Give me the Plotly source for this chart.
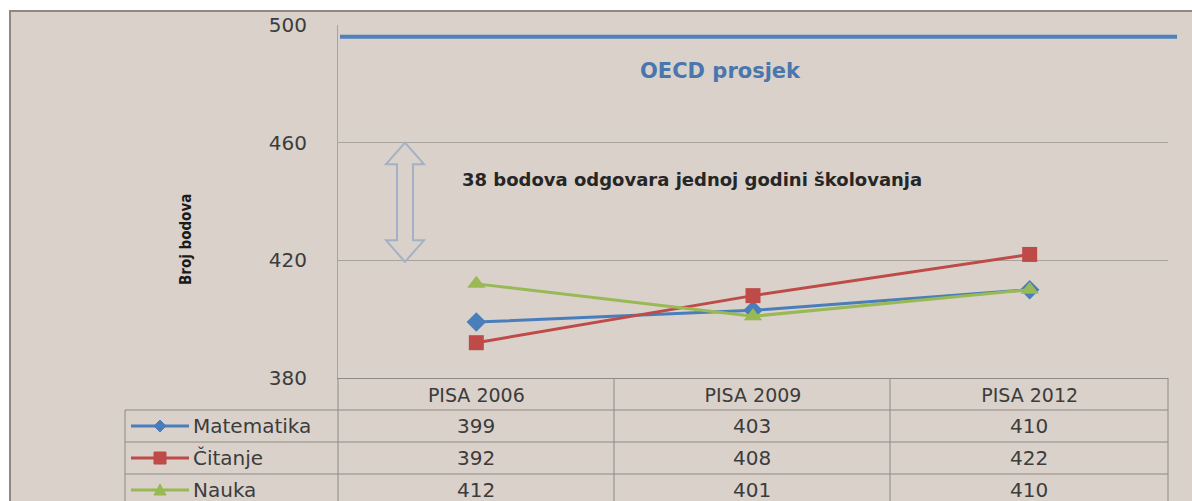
import plotly.graph_objects as go

categories = ["PISA 2006", "PISA 2009", "PISA 2012"]
series_names = ["Matematika", "Čitanje", "Nauka"]
matematika = [399, 403, 410]
citanje = [392, 408, 422]
nauka = [412, 401, 410]
oecd_avg = 496
oecd_label = "OECD prosjek"
note_text = "38 bodova odgovara jednoj godini školovanja"
arrow_span = [460, 419.5]
y_ticks = [380, 420, 460, 500]

W, H = 1192, 501
BG = "#D9D1CA"
colors = ["#4A7EBB", "#BE4B48", "#98B954"]
symbols = ["diamond", "square", "triangle-up"]
values = [matematika, citanje, nauka]
FONT = "DejaVu Sans"
TXT = "#3C3C3C"

def px(x):
    return x / W

def py(y):
    return 1 - y / H

fig = go.Figure()
msizes = {"diamond": 15, "square": 15, "triangle-up": 16}
for name, vals, col, sym in zip(series_names, values, colors, symbols):
    fig.add_trace(go.Scatter(
        x=categories, y=vals, name=name, mode="lines+markers",
        line=dict(color=col, width=3),
        marker=dict(symbol=sym, size=msizes[sym], color=col),
        showlegend=False, cliponaxis=False,
    ))

shapes = []
shapes.append(dict(type="rect", xref="paper", yref="paper", x0=0, x1=1, y0=py(10), y1=1,
                   fillcolor="white", line_width=0, layer="above"))
shapes.append(dict(type="rect", xref="paper", yref="paper", x0=0, x1=px(9), y0=0, y1=1,
                   fillcolor="white", line_width=0, layer="above"))
shapes.append(dict(type="line", xref="paper", yref="paper", x0=px(9), x1=1.0, y0=py(11), y1=py(11),
                   line=dict(color="#8C8885", width=2)))
shapes.append(dict(type="line", xref="paper", yref="paper", x0=px(10), x1=px(10), y0=py(11), y1=0,
                   line=dict(color="#8C8885", width=2)))

shapes.append(dict(type="line", xref="paper", yref="y", x0=px(340), x1=px(1177), y0=oecd_avg, y1=oecd_avg,
                   line=dict(color="#4F81BD", width=4)))

cx, hw, sw = 405, 19, 8
top, bot = arrow_span
hh = 7.3
path = (f"M {px(cx)},{top} L {px(cx+hw)},{top-hh} L {px(cx+sw)},{top-hh} L {px(cx+sw)},{bot+hh} "
        f"L {px(cx+hw)},{bot+hh} L {px(cx)},{bot} L {px(cx-hw)},{bot+hh} L {px(cx-sw)},{bot+hh} "
        f"L {px(cx-sw)},{top-hh} L {px(cx-hw)},{top-hh} Z")
shapes.append(dict(type="path", xref="paper", yref="y", path=path,
                   line=dict(color="#A3B1C4", width=2), fillcolor="rgba(0,0,0,0)"))

TL = "#8E8A86"
col_x = [338, 614, 890, 1168]
row_y = [378, 410, 442, 474]
for x in col_x:
    shapes.append(dict(type="line", xref="paper", yref="paper", x0=px(x), x1=px(x), y0=py(378), y1=0,
                       line=dict(color=TL, width=1)))
shapes.append(dict(type="line", xref="paper", yref="paper", x0=px(125), x1=px(125), y0=py(410), y1=0,
                   line=dict(color=TL, width=1)))
for y in row_y[1:]:
    shapes.append(dict(type="line", xref="paper", yref="paper", x0=px(125), x1=px(1168), y0=py(y), y1=py(y),
                       line=dict(color=TL, width=1)))

annotations = []
for i, (name, col, sym) in enumerate(zip(series_names, colors, symbols)):
    yc = (row_y[i + 1] + (row_y[i + 2] if i + 2 < len(row_y) else 506)) / 2
    shapes.append(dict(type="line", xref="paper", yref="paper", x0=px(131), x1=px(189), y0=py(yc), y1=py(yc),
                       line=dict(color=col, width=3)))
    mx = 160
    if sym == "diamond":
        p = f"M {px(mx)},{py(yc-6)} L {px(mx+6)},{py(yc)} L {px(mx)},{py(yc+6)} L {px(mx-6)},{py(yc)} Z"
    elif sym == "square":
        p = f"M {px(mx-6)},{py(yc-6)} L {px(mx+6)},{py(yc-6)} L {px(mx+6)},{py(yc+6)} L {px(mx-6)},{py(yc+6)} Z"
    else:
        p = f"M {px(mx)},{py(yc-6)} L {px(mx+6)},{py(yc+5)} L {px(mx-6)},{py(yc+5)} Z"
    shapes.append(dict(type="path", xref="paper", yref="paper", path=p, fillcolor=col, line=dict(color=col, width=1)))
    annotations.append(dict(xref="paper", yref="paper", x=px(191), y=py(yc), text=name, showarrow=False,
                            xanchor="left", yanchor="middle", font=dict(family=FONT, size=20, color=TXT)))
    for j, v in enumerate(values[i]):
        annotations.append(dict(xref="paper", yref="paper", x=px((col_x[j] + col_x[j + 1]) / 2), y=py(yc),
                                text=str(v), showarrow=False, xanchor="center", yanchor="middle",
                                font=dict(family=FONT, size=20, color=TXT)))

annotations.append(dict(xref="paper", yref="paper", x=px(720), y=py(71), text=f"<b>{oecd_label}</b>",
                        xanchor="center", yanchor="middle",
                        showarrow=False, font=dict(family=FONT, size=21, color="#4A76AE")))
annotations.append(dict(xref="paper", yref="paper", x=px(460), y=py(180), text=f"<b>{note_text}</b>",
                        xanchor="left", yanchor="middle", showarrow=False,
                        font=dict(family=FONT, size=18, color="#262626")))
annotations.append(dict(xref="paper", yref="paper", x=px(186), y=py(240), text="<b>Broj bodova</b>",
                        textangle=-90, showarrow=False, xanchor="center", yanchor="middle",
                        font=dict(family="DejaVu Sans Condensed", size=15, color="#1A1A1A")))

fig.update_layout(
    width=W, height=H, margin=dict(l=0, r=0, t=0, b=0, pad=0, autoexpand=False),
    paper_bgcolor=BG, plot_bgcolor=BG,
    shapes=shapes, annotations=annotations, showlegend=False,
    xaxis=dict(domain=[px(338), px(1168)], type="category", range=[-0.5, 2.5], automargin=False,
               showgrid=False, zeroline=False, showline=True, linecolor=TL, linewidth=1,
               tickfont=dict(family=FONT, size=19, color=TXT), ticks="", ticklabelstandoff=0),
    yaxis=dict(domain=[py(378), py(25)], range=[380, 500], tickvals=y_ticks, automargin=False,
               showgrid=True, gridcolor="#A9A39E", gridwidth=1, zeroline=False,
               showline=True, linecolor="#A9A39E", linewidth=1, ticks="",
               tickfont=dict(family=FONT, size=20, color=TXT), ticklabelstandoff=26),
)

fig.write_html("out.html", config={"displayModeBar": False},
               post_script="document.body.style.margin='0';document.body.style.overflow='hidden';")
